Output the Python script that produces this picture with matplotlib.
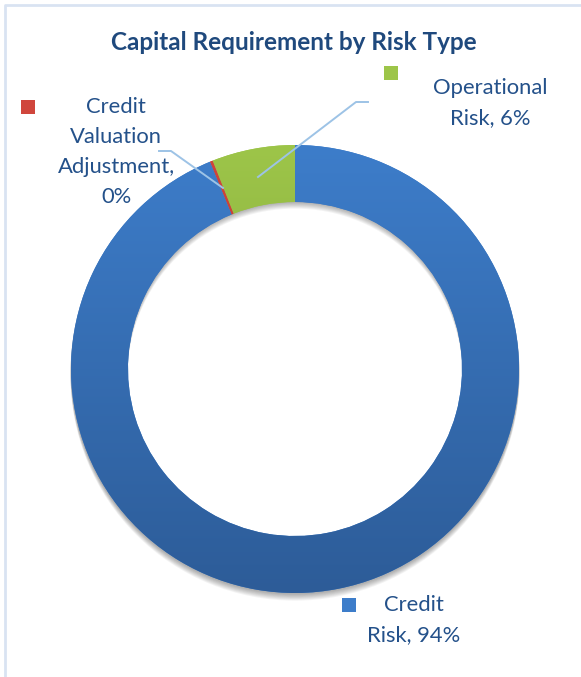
import numpy as np
import matplotlib
matplotlib.use("Agg")
from matplotlib import pyplot as plt
from matplotlib.patches import Wedge, Rectangle
from matplotlib.colors import LinearSegmentedColormap

# chart data (counter-clockwise from 12 o'clock)
categories = ["Operational Risk", "Credit Valuation Adjustment", "Credit Risk"]
shares = [6.0, 0.2, 93.8]
pct_labels = ["6%", "0%", "94%"]
label_texts = ["Operational\nRisk, 6%", "Credit\nValuation\nAdjustment,\n0%", "Credit\nRisk, 94%"]
top_colors = ["#9DC549", "#D0463C", "#3D7DCA"]
bottom_colors = ["#7A9A37", "#A8302A", "#2D5C98"]

W, H = 581, 677
TEXT = "#24518A"
LEADER = "#9DC3E6"

fig = plt.figure(figsize=(W / 100, H / 100), dpi=100)
ax = fig.add_axes([0, 0, 1, 1])


def py(y):
    """pixel row -> data y"""
    return H - y


cx, cy = 295, py(369)
r_out, r_in = 224, 167

# soft shadow under the ring
for k in range(1, 9):
    sh = Wedge((cx, cy - k * 0.9), r_out + 0.5, 0, 360, width=r_out - r_in,
               facecolor="#000000", edgecolor="none", alpha=0.045, zorder=1)
    ax.add_patch(sh)

wedges, _ = ax.pie(shares, startangle=90, counterclock=True,
                   center=(cx, cy), radius=r_out,
                   wedgeprops=dict(width=r_out - r_in, linewidth=0))

# vertical gradient fill per wedge
grad = np.linspace(0, 1, 256).reshape(-1, 1)
for w, c0, c1 in zip(wedges, top_colors, bottom_colors):
    w.set_facecolor(c0)
    w.set_zorder(2)
    cmap = LinearSegmentedColormap.from_list("g", [c0, c1])
    im = ax.imshow(grad, cmap=cmap, aspect="auto", origin="upper",
                   extent=(cx - r_out, cx + r_out, cy - r_out, cy + r_out),
                   zorder=3, interpolation="bilinear")
    im.set_clip_path(w)

# legend-key squares next to labels
for (x0, y0), c0 in [((384, 66), top_colors[0]), ((21, 100), top_colors[1]),
                     ((342, 598), top_colors[2])]:
    ax.add_patch(Rectangle((x0, py(y0 + 14)), 14, 14, facecolor=c0,
                           edgecolor="none", zorder=4))

# leader lines
ax.plot([258, 356, 368], [py(177), py(102), py(102)], color=LEADER, lw=1.4, zorder=5)
ax.plot([159, 171, 223], [py(151), py(151), py(188)], color=LEADER, lw=1.4, zorder=5)

font = ["Lato", "DejaVu Sans"]
kw = dict(ha="center", va="center", multialignment="center", fontsize=15.8,
          color=TEXT, family=font, linespacing=1.62)
ax.text(490, py(103), label_texts[0], **kw)
ax.text(116, py(152), label_texts[1], **kw)
ax.text(414, py(620), label_texts[2], **kw)

ax.text(294, py(43), "Capital Requirement by Risk Type", ha="center", va="center",
        fontsize=17.5, fontweight="bold", color="#1F497D", family=font)

# chart frame (only top and left edges visible)
ax.plot([4.5, 4.5, W], [0, py(4.5), py(4.5)], color="#D9E3F2", lw=2, zorder=6)

ax.set_xlim(0, W)
ax.set_ylim(0, H)
ax.set_aspect("equal")
ax.axis("off")

fig.savefig("out.png", dpi=100)
